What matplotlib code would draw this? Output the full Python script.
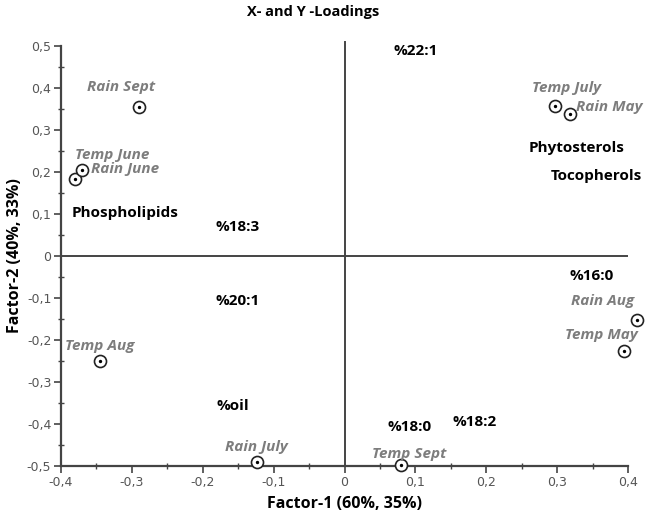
import matplotlib
matplotlib.use("Agg")
import matplotlib.pyplot as plt
from matplotlib.ticker import MultipleLocator, FuncFormatter

# weather scores (circles with labels)
obs_names = ['Rain Sept', 'Temp June', 'Rain June', 'Temp July', 'Rain May',
             'Rain Aug', 'Temp May', 'Temp Sept', 'Temp Aug', 'Rain July']
obs_x = [-0.29, -0.38, -0.37, 0.297, 0.318, 0.413, 0.394, 0.08, -0.345, -0.124]
obs_y = [0.355, 0.183, 0.205, 0.356, 0.338, -0.153, -0.225, -0.498, -0.249, -0.49]

# quality variable loadings (bold text only)
var_names = ['%22:1', 'Phytosterols', 'Tocopherols', 'Phospholipids', '%18:3',
             '%16:0', '%20:1', '%oil', '%18:0', '%18:2']
var_x = [0.101, 0.328, 0.355, -0.31, -0.151, 0.349, -0.151, -0.158, 0.092, 0.183]
var_y = [0.488, 0.256, 0.19, 0.103, 0.069, -0.048, -0.108, -0.357, -0.407, -0.395]

# label offsets in pixels (dx, dy, ha)
offsets = {
    'Rain Sept': (-18, 20, 'center'),
    'Temp June': (37, 24, 'center'),
    'Rain June': (9, 1, 'left'),
    'Temp July': (12, 18, 'center'),
    'Rain May': (6, 7, 'left'),
    'Rain Aug': (-35, 19, 'center'),
    'Temp May': (-22, 16, 'center'),
    'Temp Sept': (8, 11, 'center'),
    'Temp Aug': (0, 15, 'center'),
    'Rain July': (0, 15, 'center'),
}

fig = plt.figure(figsize=(6.51, 5.17), dpi=100)
ax = fig.add_axes([61 / 651, 51 / 517, 567 / 651, 420 / 517])

grey = '#444444'
font = 'Open Sans'
ax.set_xlim(-0.4, 0.4)
ax.set_ylim(-0.5, 0.5)

ax.axhline(0, color=grey, lw=1.4, zorder=1)
ax.axvline(0, color=grey, lw=1.4, ymax=1.01, clip_on=False, zorder=1)

for s in ['top', 'right']:
    ax.spines[s].set_visible(False)
for s in ['left', 'bottom']:
    ax.spines[s].set_color(grey)
    ax.spines[s].set_linewidth(1.6)

ax.scatter(obs_x, obs_y, s=75, facecolors='white', edgecolors='#222222',
           linewidths=1.2, clip_on=False, zorder=3)
ax.scatter(obs_x, obs_y, s=2, color='black', clip_on=False, zorder=4)

for name, x, y in zip(obs_names, obs_x, obs_y):
    dx, dy, ha = offsets[name]
    ax.annotate(name, (x, y), xytext=(dx, dy), textcoords='offset pixels',
                ha=ha, va='center', fontsize=11, style='italic',
                fontweight='bold', color='#7d7d7d', family=font,
                annotation_clip=False)

for name, x, y in zip(var_names, var_x, var_y):
    ax.text(x, y, name, ha='center', va='center', fontsize=11,
            fontweight='bold', family=font, color='black')

ax.xaxis.set_major_locator(MultipleLocator(0.1))
ax.xaxis.set_minor_locator(MultipleLocator(0.05))
ax.yaxis.set_major_locator(MultipleLocator(0.1))
ax.yaxis.set_minor_locator(MultipleLocator(0.05))


def comma(v, pos):
    v = round(v, 2)
    if abs(v) < 1e-9:
        return '0'
    return ('%g' % v).replace('.', ',')


ax.xaxis.set_major_formatter(FuncFormatter(comma))
ax.yaxis.set_major_formatter(FuncFormatter(comma))
ax.tick_params(which='major', direction='out', length=5, width=1.2,
               color=grey, labelsize=9, labelcolor='#555555', pad=2)
ax.tick_params(which='minor', direction='inout', length=4, width=1,
               color=grey)

ax.set_xlabel('Factor-1 (60%, 35%)', fontsize=11.5, fontweight='bold',
              family=font, labelpad=5)
ax.set_ylabel('Factor-2 (40%, 33%)', fontsize=11.5, fontweight='bold',
              family=font, labelpad=3)
fig.text(313 / 651, 1 - 12 / 517, 'X- and Y -Loadings', ha='center',
         va='center', fontsize=10.5, fontweight='bold', family=font)

fig.savefig('out.png', dpi=100)
